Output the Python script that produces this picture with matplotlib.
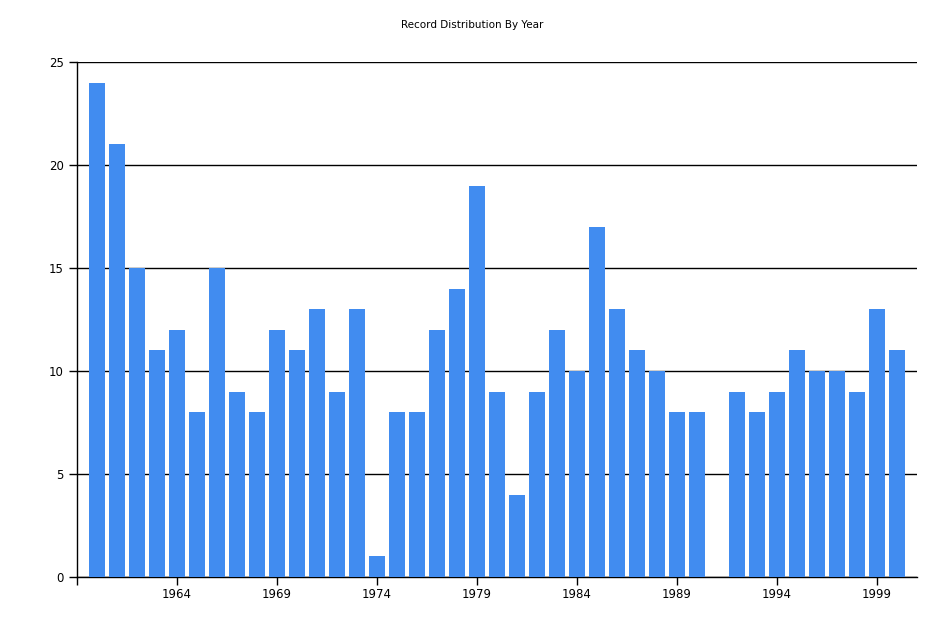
import matplotlib
matplotlib.use("Agg")
import matplotlib.pyplot as plt
import numpy as np

years = list(range(1960, 2001))
counts = [24, 21, 15, 11, 12, 8, 15, 9, 8, 12,
          11, 13, 9, 13, 1, 8, 8, 12, 14, 19,
          9, 4, 9, 12, 10, 17, 13, 11, 10, 8,
          8, 0, 9, 8, 9, 11, 10, 10, 9, 13,
          11]
tick_years = list(range(1959, 2000, 5))
tick_labels = [''] + [str(y) for y in tick_years[1:]]

fig = plt.figure(figsize=(9.45, 6.3), dpi=100)
ax = fig.add_axes([77 / 945, (630 - 577) / 630, (917 - 77) / 945, (577 - 62) / 630])

ax.bar(years, counts, width=0.8, color='#418CF0', zorder=3)

ax.set_xlim(1959, 2001)
ax.set_ylim(0, 25)
ax.set_yticks([0, 5, 10, 15, 20, 25])
ax.set_xticks(tick_years)
ax.set_xticklabels(tick_labels)
ax.grid(axis='y', color='black', linewidth=1, zorder=1)

for s in ['top', 'right']:
    ax.spines[s].set_visible(False)
for s in ['left', 'bottom']:
    ax.spines[s].set_color('black')
    ax.spines[s].set_linewidth(1)

ax.tick_params(axis='both', direction='out', length=6, width=1, labelsize=8.5, colors='black')
ax.tick_params(axis='x', pad=2)

fig.text(472 / 945, 1 - 25 / 630, 'Record Distribution By Year', ha='center', va='center', fontsize=7.5)

fig.savefig('out.png', dpi=100)
